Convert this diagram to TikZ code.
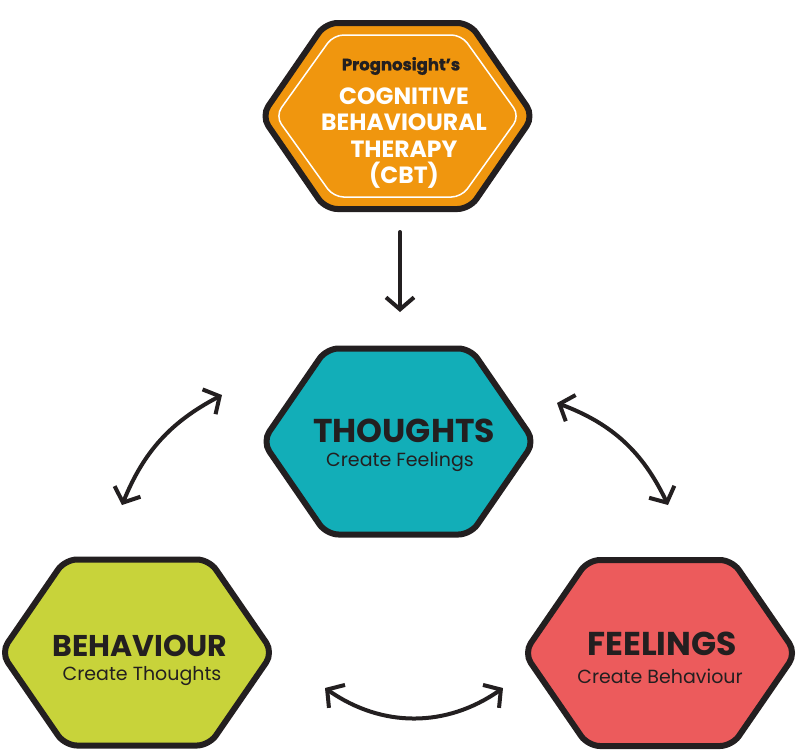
\documentclass[tikz,border=0pt]{standalone}
\usepackage{fontspec}
\setmainfont{Poppins}
\usetikzlibrary{arrows.meta}

\definecolor{cbtorange}{HTML}{F0960E}
\definecolor{thoughtteal}{HTML}{12AEB8}
\definecolor{behavlime}{HTML}{C8D33A}
\definecolor{feelred}{HTML}{EC5B5C}
\definecolor{inkdark}{HTML}{231F20}

% hexagon outline: centre, half width, half top edge, half height
\newcommand{\hexpath}[4]{(#1) ++(-#2,0) -- ++(#2-#3,#4) -- ++(2*#3,0) -- ++(#2-#3,-#4) -- ++(#3-#2,-#4) -- ++(-2*#3,0) -- cycle}

\tikzset{
  hexbox/.style={draw=inkdark, line width=6pt, rounded corners=12pt, line join=round},
  title/.style={font={\fontsize{33}{38}\selectfont\bfseries}, text=inkdark, inner sep=1pt},
  subtitle/.style={font={\fontsize{19}{22}\selectfont}, text=inkdark, inner sep=1pt},
  cbttext/.style={font={\fontsize{23.5}{26.5}\selectfont\bfseries}, text=white, align=center},
  arr/.style={draw=inkdark, line width=4pt, line cap=round,
    >={Straight Barb[length=12pt,width=28pt,line width=4pt]}}
}

\begin{document}
\begin{tikzpicture}[x=1pt,y=1pt]

  \useasboundingbox (0,0) rectangle (800,-755);

  % Centres
  \coordinate (cbt) at (397.5,-116);
  \coordinate (thoughts) at (398.5,-441.5);
  \coordinate (behaviour) at (137,-652.5);
  \coordinate (feelings) at (660,-653);

  % Hexagons
  \draw[hexbox, fill=cbtorange] \hexpath{cbt}{136}{72}{93};
  \draw[white, line width=1.5pt, rounded corners=10pt] \hexpath{cbt}{122}{64}{81};
  \draw[hexbox, fill=thoughtteal] \hexpath{thoughts}{136}{72}{93};
  \draw[hexbox, fill=behavlime] \hexpath{behaviour}{136}{72}{93};
  \draw[hexbox, fill=feelred] \hexpath{feelings}{136}{72}{93};

  % Labels
  \node[font={\fontsize{16.5}{20}\selectfont\bfseries\addfontfeature{FakeBold=1.5}}, text=inkdark] (cbt-brand) at (401,-66) {Prognosight's};
  \node[cbttext] (cbt-name) at (404,-138) {COGNITIVE\\BEHAVIOURAL\\THERAPY\\(CBT)};

  \node[title] (thoughts-title) at (404,-431) {THOUGHTS};
  \node[subtitle] (thoughts-text) at (400,-462) {Create Feelings};

  \node[title, font={\fontsize{30}{34}\selectfont\bfseries}] (behaviour-title) at (140,-646) {BEHAVIOUR};
  \node[subtitle] (behaviour-text) at (142,-676) {Create Thoughts};

  \node[title] (feelings-title) at (662,-644) {FEELINGS};
  \node[subtitle] (feelings-text) at (660,-676) {Create Behaviour};

  % Arrow ends
  \coordinate (down-s) at (400,-232);
  \coordinate (down-e) at (400,-312);
  \coordinate (left-s) at (222,-395);
  \coordinate (left-e) at (122,-505);
  \coordinate (right-s) at (557,-403);
  \coordinate (right-e) at (668,-505);
  \coordinate (bottom-s) at (325,-688);
  \coordinate (bottom-e) at (503,-688);

  % Arrows
  \draw[arr, ->] (down-s) -- (down-e);
  \draw[arr, <->] (left-s) to[bend right=20] (left-e);
  \draw[arr, <->] (right-s) to[bend left=22] (right-e);
  \draw[arr, <->] (bottom-s) to[bend right=35] (bottom-e);

\end{tikzpicture}
\end{document}
